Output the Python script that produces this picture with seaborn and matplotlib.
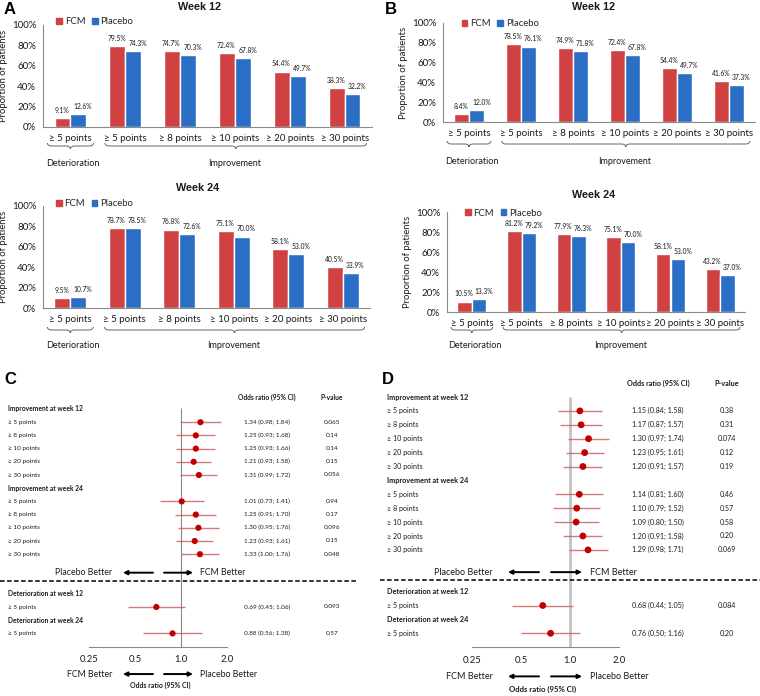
import numpy as np
import pandas as pd
import matplotlib
matplotlib.use("Agg")
import matplotlib.pyplot as plt
import seaborn as sns
from matplotlib.path import Path
from matplotlib.patches import PathPatch, Patch
from matplotlib.transforms import blended_transform_factory
from matplotlib.ticker import FuncFormatter

# ---------------- data ----------------
categories = ["Det ≥ 5", "Imp ≥ 5", "Imp ≥ 8", "Imp ≥ 10", "Imp ≥ 20", "Imp ≥ 30"]
tick_labels = ["≥ 5 points", "≥ 5 points", "≥ 8 points", "≥ 10 points", "≥ 20 points", "≥ 30 points"]
groups = ["FCM", "Placebo"]

a12_fcm = [9.1, 79.5, 74.7, 72.4, 54.4, 38.3]
a12_pla = [12.6, 74.3, 70.3, 67.8, 49.7, 32.2]
a24_fcm = [9.5, 78.7, 76.8, 75.1, 58.1, 40.5]
a24_pla = [10.7, 78.5, 72.6, 70.0, 53.0, 33.9]
b12_fcm = [8.4, 78.5, 74.9, 72.4, 54.4, 41.6]
b12_pla = [12.0, 76.1, 71.8, 67.8, 49.7, 37.3]
b24_fcm = [10.5, 81.2, 77.9, 75.1, 58.1, 43.2]
b24_pla = [13.3, 79.2, 76.3, 70.0, 53.0, 37.0]

forest_headers = ["Improvement at week 12", "Improvement at week 24",
                  "Deterioration at week 12", "Deterioration at week 24"]
forest_labels = ["≥ 5 points", "≥ 8 points", "≥ 10 points", "≥ 20 points", "≥ 30 points",
                 "≥ 5 points", "≥ 8 points", "≥ 10 points", "≥ 20 points", "≥ 30 points",
                 "≥ 5 points", "≥ 5 points"]

c_or = [1.34, 1.25, 1.25, 1.21, 1.31, 1.01, 1.25, 1.30, 1.23, 1.33, 0.69, 0.88]
c_lo = [0.98, 0.93, 0.93, 0.93, 0.99, 0.73, 0.91, 0.95, 0.93, 1.00, 0.45, 0.56]
c_hi = [1.84, 1.68, 1.66, 1.58, 1.72, 1.41, 1.70, 1.76, 1.61, 1.76, 1.06, 1.38]
c_p = ["0.065", "0.14", "0.14", "0.15", "0.056", "0.94", "0.17", "0.096", "0.15", "0.048", "0.093", "0.57"]

d_or = [1.15, 1.17, 1.30, 1.23, 1.20, 1.14, 1.10, 1.09, 1.20, 1.29, 0.68, 0.76]
d_lo = [0.84, 0.87, 0.97, 0.95, 0.91, 0.81, 0.79, 0.80, 0.91, 0.98, 0.44, 0.50]
d_hi = [1.58, 1.57, 1.74, 1.61, 1.57, 1.60, 1.52, 1.50, 1.58, 1.71, 1.05, 1.16]
d_p = ["0.38", "0.31", "0.074", "0.12", "0.19", "0.46", "0.57", "0.58", "0.20", "0.069", "0.084", "0.20"]

or_ticks = [0.25, 0.5, 1.0, 2.0]
or_tick_labels = ["0.25", "0.5", "1.0", "2.0"]

# ---------------- style ----------------
sns.set_theme(style="white")
plt.rcParams["font.family"] = ["Lato", "DejaVu Sans"]
TXT = "#1a1a1a"
RED = "#D04242"
BLUE = "#2A6EC6"
AX = "#8a8a8a"

W, H = 760, 696
fig = plt.figure(figsize=(W / 100, H / 100), dpi=100)


def rect(l, r, t, b):
    return [l / W, 1 - b / H, (r - l) / W, (b - t) / H]


def brace(ax, x0, x1, top_px, h_px):
    axh = ax.bbox.height
    yt = -top_px / axh
    yb = -(top_px + h_px) / axh
    ym = (yt + yb) / 2
    xm = (x0 + x1) / 2
    d = 0.08
    verts = [(x0, yt), (x0, ym), (x0 + d, ym), (xm - d, ym), (xm, ym), (xm, yb),
             (xm, ym), (xm + d, ym), (x1 - d, ym), (x1, ym), (x1, yt)]
    codes = [Path.MOVETO, Path.CURVE3, Path.CURVE3, Path.LINETO, Path.CURVE3, Path.CURVE3,
             Path.CURVE3, Path.CURVE3, Path.LINETO, Path.CURVE3, Path.CURVE3]
    tr = blended_transform_factory(ax.transData, ax.transAxes)
    ax.add_patch(PathPatch(Path(verts, codes), fill=False, edgecolor="#666666",
                           lw=0.7, transform=tr, clip_on=False))


def bar_panel(box, fcm, pla, title_xy, brace_px, group_px, legend_xy):
    ax = fig.add_axes(rect(*box))
    df = pd.DataFrame({"cat": categories * 2,
                       "group": [groups[0]] * 6 + [groups[1]] * 6,
                       "val": fcm + pla})
    sns.barplot(data=df, x="cat", y="val", hue="group", palette=[RED, BLUE],
                saturation=1, width=0.58, gap=0, ax=ax, legend=False)
    ax.set_ylim(0, 100)
    ax.set_xlim(-0.5, 5.5)
    ax.set_yticks(np.arange(0, 101, 20))
    ax.yaxis.set_major_formatter(FuncFormatter(lambda v, p: f"{v:.0f}%"))
    ax.set_xticks(range(6))
    ax.set_xticklabels(tick_labels)
    ax.set_xticks(np.arange(-0.5, 6, 1), minor=True)
    ax.tick_params(axis="x", which="major", length=0, pad=5, labelsize=7, labelcolor=TXT)
    ax.tick_params(axis="x", which="minor", length=4, direction="out", color=AX, width=0.7)
    ax.tick_params(axis="y", length=3, direction="out", color=AX, width=0.7,
                   labelsize=7, labelcolor=TXT, pad=2)
    ax.set_xlabel("")
    ax.set_ylabel("Proportion of patients", fontsize=6.8, color=TXT, labelpad=3)
    for s in ["top", "right"]:
        ax.spines[s].set_visible(False)
    for s in ["left", "bottom"]:
        ax.spines[s].set_color(AX)
        ax.spines[s].set_linewidth(0.8)
    # value labels: FCM centred, Placebo nudged right (as in the original)
    for cont, vals, dx in zip(ax.containers, [fcm, pla], [-0.5, 3.5]):
        for rectp, v in zip(cont.patches, vals):
            ax.annotate(f"{v:.1f}%", (rectp.get_x() + rectp.get_width() / 2, rectp.get_height()),
                        xytext=(dx, 3), textcoords="offset points", ha="center", va="bottom",
                        fontsize=4.9, color=TXT)
    handles = [Patch(color=RED), Patch(color=BLUE)]
    ax.legend(handles, groups, loc="center left", bbox_to_anchor=legend_xy, ncol=2,
              frameon=False, fontsize=6.8, handlelength=0.6, handleheight=0.6,
              handletextpad=0.3, columnspacing=0.7, borderaxespad=0, borderpad=0)
    brace(ax, -0.42, 0.42, brace_px, 6)
    brace(ax, 0.63, 5.4, brace_px, 6)
    axh = ax.bbox.height
    tr = blended_transform_factory(ax.transData, ax.transAxes)
    ax.text(0.05, -group_px / axh, "Deterioration", transform=tr, ha="center",
            va="center", fontsize=6.5, color=TXT)
    ax.text(3.0, -group_px / axh, "Improvement", transform=tr, ha="center",
            va="center", fontsize=6.5, color=TXT)
    fig.text(title_xy[0] / W, 1 - title_xy[1] / H, "Week " + title_xy[2],
             ha="center", va="center", fontsize=7.8, fontweight="bold",
             family=["Liberation Sans"], color=TXT)
    return ax


bar_panel((43, 372, 25, 127), a12_fcm, a12_pla, (200, 7, "12"), 16, 37, (0.04, 1.03))
bar_panel((43, 370, 206, 308), a24_fcm, a24_pla, (198, 188, "24"), 19, 37, (0.04, 1.02))
bar_panel((443, 755, 23, 122), b12_fcm, b12_pla, (593, 7, "12"), 19, 40, (0.06, 0.99))
bar_panel((447, 745, 212, 312), b24_fcm, b24_pla, (594, 195, "24"), 15, 33, (0.06, 0.99))

for letter, x, y in [("A", 4, 10), ("B", 385, 10), ("C", 4, 379), ("D", 382, 379)]:
    fig.text(x / W, 1 - y / H, letter, ha="left", va="center", fontsize=12,
             fontweight="bold", family=["Liberation Sans"], color="black")


# ---------------- forest panels ----------------
data_rows = [1, 2, 3, 4, 5, 7, 8, 9, 10, 11, 15, 17]
header_rows = [0, 6, 14, 16]


def forest_panel(box, one_px, px_per_doubling, orv, lo, hi, pv, cfg):
    ax = fig.add_axes(rect(*box))
    width_px = box[1] - box[0]
    ax.set_xscale("log", base=2)
    ax.vlines(1.0, cfg["vtop"], 18, color=cfg["vcol"], lw=cfg["vlw"], zorder=1)
    ax.hlines(data_rows, lo, hi, color="#c85a5a", lw=1.0, alpha=0.8, zorder=2)
    sns.scatterplot(x=orv, y=data_rows, ax=ax, color="#c00000", s=cfg["ms"],
                    edgecolor="none", zorder=3, legend=False)
    ax.set_xlim(2 ** (-one_px / px_per_doubling), 2 ** ((width_px - one_px) / px_per_doubling))
    ax.set_ylim(18, -1)
    ax.set_yticks([])
    ax.set_xticks(or_ticks)
    ax.set_xticklabels(or_tick_labels)
    ax.xaxis.set_minor_locator(matplotlib.ticker.NullLocator())
    ax.tick_params(axis="x", length=4, direction="inout", color=AX, width=0.7,
                   labelsize=6.8, labelcolor=TXT, pad=4)
    for s in ["top", "right", "left"]:
        ax.spines[s].set_visible(False)
    ax.spines["bottom"].set_bounds(0.25, 2.0)
    ax.spines["bottom"].set_color(AX)
    ax.spines["bottom"].set_linewidth(0.8)
    ax.set_facecolor("none")
    tr = blended_transform_factory(ax.transAxes, ax.transData)
    fx = lambda px: px / width_px
    for r, h in zip(header_rows, forest_headers):
        ax.text(fx(cfg["lab_x"]), r, h, transform=tr, ha="left", va="center",
                fontsize=cfg["fs_head"], fontweight="bold", color=TXT)
    for r, lab, o, l, h, p in zip(data_rows, forest_labels, orv, lo, hi, pv):
        ax.text(fx(cfg["lab_x"]), r, lab, transform=tr, ha="left", va="center",
                fontsize=cfg["fs_row"], color=TXT)
        ax.text(fx(cfg["or_x"]), r, f"{o:.2f} ({l:.2f}; {h:.2f})", transform=tr,
                ha="center", va="center", fontsize=cfg["fs_row"], color=TXT)
        ax.text(fx(cfg["p_x"]), r, p, transform=tr, ha="center", va="center",
                fontsize=cfg["fs_row"], color=TXT)
    ax.text(fx(cfg["or_x"]), cfg["head_y"], "Odds ratio (95% CI)", transform=tr,
            ha="center", va="center", fontsize=cfg["fs_head"], fontweight="bold",
            color=TXT, clip_on=False)
    ax.text(fx(cfg["p_x"]), cfg["head_y"], "P-value", transform=tr,
            ha="center", va="center", fontsize=cfg["fs_head"], fontweight="bold",
            color=TXT, clip_on=False)
    # dashed separator
    ax.axhline(cfg["dash_y"], xmin=0, xmax=cfg["dash_xmax"], color="black", lw=1.1,
               ls=(0, (3, 1.6)), zorder=1)
    # direction arrows
    for y, left_t, right_t in [(cfg["top_y"], "Placebo Better", "FCM Better"),
                               (cfg["bot_y"], "FCM Better", "Placebo Better")]:
        ax.annotate("", xy=(fx(cfg["la"][1]), y), xytext=(fx(cfg["la"][0]), y),
                    xycoords=tr, textcoords=tr, annotation_clip=False,
                    arrowprops=dict(arrowstyle="-|>", color="black", lw=1.4,
                                    mutation_scale=6, shrinkA=0, shrinkB=0))
        ax.annotate("", xy=(fx(cfg["ra"][1]), y), xytext=(fx(cfg["ra"][0]), y),
                    xycoords=tr, textcoords=tr, annotation_clip=False,
                    arrowprops=dict(arrowstyle="-|>", color="black", lw=1.4,
                                    mutation_scale=6, shrinkA=0, shrinkB=0))
        ax.text(fx(cfg["lt"]), y, left_t, transform=tr, ha="right", va="center",
                fontsize=cfg["fs_dir"], color=TXT, clip_on=False)
        ax.text(fx(cfg["rt"]), y, right_t, transform=tr, ha="left", va="center",
                fontsize=cfg["fs_dir"], color=TXT, clip_on=False)
    ax.text(fx(cfg["orl_x"]), cfg["orl_y"], "Odds ratio (95% CI)", transform=tr,
            ha="center", va="center", fontsize=cfg["fs_orl"], fontweight="bold",
            color=TXT, clip_on=False)
    return ax


cfg_c = dict(vtop=-0.1, vcol="#888888", vlw=0.8, ms=20, lab_x=8, or_x=267, p_x=332,
             fs_head=4.8, fs_row=4.6, head_y=-0.85, dash_y=13.05, dash_xmax=357 / 380,
             top_y=12.4, bot_y=20.08, la=(153, 123), ra=(164, 193), lt=112, rt=200,
             fs_dir=6.3, fs_orl=5.0, orl_x=160, orl_y=20.9)
cfg_d = dict(vtop=0, vcol="#c4c4c4", vlw=2.0, ms=24, lab_x=7, or_x=278, p_x=347,
             fs_head=5.2, fs_row=5.1, head_y=-1.0, dash_y=13.2, dash_xmax=1.0,
             top_y=12.6, bot_y=20.1, la=(159, 128), ra=(171, 202), lt=113, rt=210,
             fs_dir=6.5, fs_orl=5.6, orl_x=163, orl_y=21.0)

forest_panel((0, 380, 395.8, 646.6), 181, 46, c_or, c_lo, c_hi, c_p, cfg_c)
forest_panel((380, 760, 383.1, 647.2), 190, 49, d_or, d_lo, d_hi, d_p, cfg_d)

fig.savefig("out.png", dpi=100)
